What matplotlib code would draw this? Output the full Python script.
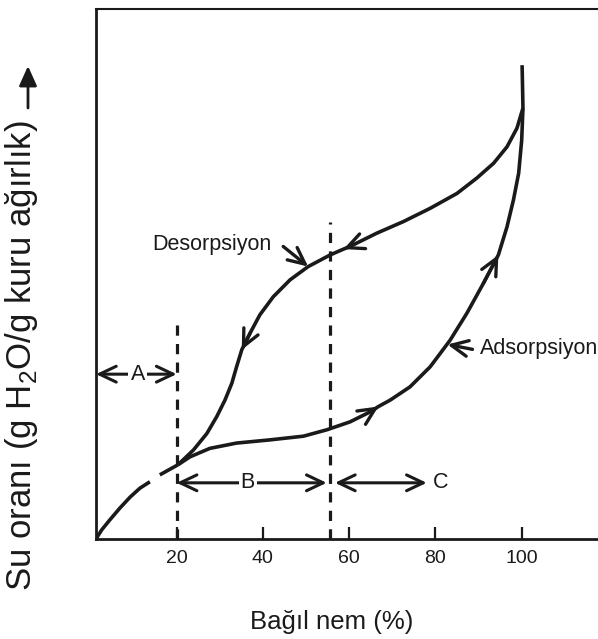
import numpy as np
import matplotlib.pyplot as plt

plt.rcParams['font.family'] = ['Liberation Sans', 'DejaVu Sans']
plt.rcParams['mathtext.fontset'] = 'custom'
plt.rcParams['mathtext.rm'] = 'Liberation Sans'

# values: x = relative humidity (%), y = water content (arbitrary units)
start_x1 = [1.3, 2.6, 4.5, 6.8, 9.2, 11.5, 13.8]
start_y1 = [0.0, 1.7, 3.6, 5.8, 7.9, 9.6, 10.8]
start_x2 = [16.1, 18.3, 20.3]
start_y2 = [12.1, 13.1, 14.0]

ads_x = [20.3, 23.1, 27.7, 33.9, 41.6, 49.4, 54.8, 60.2, 64.9, 66.8, 69.5, 74.1,
         78.8, 83.4, 87.3, 91.1, 94.6, 96.6, 98.1, 99.3, 100.0, 100.3]
ads_y = [14.0, 15.5, 17.1, 18.1, 18.7, 19.4, 20.6, 22.1, 24.0, 25.0, 26.2, 28.7,
         32.5, 37.5, 42.6, 48.2, 53.6, 58.9, 64.0, 69.0, 75.2, 81.3]

des_x = [100.3, 98.9, 96.6, 93.5, 89.6, 85.0, 78.8, 72.6, 66.4, 60.2, 58.7, 55.6,
         50.5, 46.3, 42.4, 39.3, 37.0, 35.1, 33.9, 32.8, 31.2, 29.3, 27.0, 23.9, 20.3]
des_y = [81.3, 77.5, 74.0, 70.9, 68.1, 65.2, 62.4, 59.9, 57.7, 55.2, 54.7, 53.6,
         51.4, 48.9, 45.7, 42.3, 38.8, 35.7, 32.5, 29.4, 26.2, 23.1, 19.9, 16.8, 14.0]

top_x = [100.3, 100.2, 100.1]
top_y = [81.3, 85.5, 89.4]

bounds = [20, 55.5]
bound_tops = [41.9, 59.8]
xticks = [20, 40, 60, 80, 100]

ink = '#1a1a1a'
barb_style = '->,head_length=0.8,head_width=0.38'

fig = plt.figure(figsize=(5.98, 6.39), dpi=100)
ax = fig.add_axes([96 / 598, 100 / 639, 502 / 598, 530 / 639])

curve = dict(color=ink, lw=2.6, solid_capstyle='butt', solid_joinstyle='round')
ax.plot(start_x1, start_y1, **curve)
ax.plot(start_x2, start_y2, **curve)
ax.plot(ads_x, ads_y, **curve)
ax.plot(des_x, des_y, **curve)
ax.plot(top_x, top_y, **curve)

for b, t in zip(bounds, bound_tops):
    ax.plot([b, b], [0, t], color=ink, lw=2.3, linestyle=(0, (3.2, 2.6)))


def barb(xs, ys, tip):
    i = xs.index(tip)
    ax.annotate('', xy=(xs[i], ys[i]), xytext=(xs[i - 1], ys[i - 1]),
                arrowprops=dict(arrowstyle=barb_style, lw=2.4, color=ink,
                                shrinkA=0, shrinkB=0, mutation_scale=15))


barb(des_x, des_y, 58.7)
barb(des_x, des_y, 35.1)
barb(ads_x, ads_y, 66.8)
barb(ads_x, ads_y, 94.6)

# labels with pointers
ax.text(42.1, 55.5, 'Desorpsiyon', ha='right', va='center', fontsize=15.5, color=ink)
i = des_x.index(50.5)
ax.annotate('', xy=(des_x[i], des_y[i]), xytext=(-18, 14.5), textcoords='offset points',
            arrowprops=dict(arrowstyle=barb_style, lw=2.4, color=ink,
                            shrinkA=0, shrinkB=0, mutation_scale=15))

ax.text(90.4, 36.0, 'Adsorpsiyon', ha='left', va='center', fontsize=15.5, color=ink)
i = ads_x.index(83.4)
ax.annotate('', xy=(ads_x[i] - 0.6, ads_y[i] - 0.8), xytext=(18, -3.5), textcoords='offset points',
            arrowprops=dict(arrowstyle=barb_style, lw=2.4, color=ink,
                            shrinkA=0, shrinkB=0, mutation_scale=15))

# regions A, B, C
span_style = '<->,head_length=0.8,head_width=0.38'
spans = [(1.3, 20, 31.1), (20, 54.8, 10.6), (56.7, 78.0, 10.6)]
for x0, x1, yy in spans:
    ax.annotate('', xy=(x1, yy), xytext=(x0, yy),
                arrowprops=dict(arrowstyle=span_style, lw=2.2, color=ink,
                                shrinkA=0, shrinkB=0, mutation_scale=15))
box = dict(fc='white', ec='none', pad=1.5)
ax.text(11.0, 31.1, 'A', ha='center', va='center', fontsize=15.5, color=ink, bbox=box)
ax.text(36.5, 10.6, 'B', ha='center', va='center', fontsize=15.5, color=ink, bbox=box)
ax.text(79.4, 10.6, 'C', ha='left', va='center', fontsize=15.5, color=ink)

ax.set_xlim(1.3, 117.7)
ax.set_ylim(0, 100)
ax.set_xticks(xticks)
ax.set_xticklabels([str(t) for t in xticks], fontsize=14)
ax.set_yticks([])
ax.tick_params(axis='x', direction='in', length=8.5, width=1.6, pad=8, colors=ink)
ax.spines['right'].set_visible(False)
ax.spines['left'].set_linewidth(2)
ax.spines['bottom'].set_linewidth(2)
ax.spines['top'].set_linewidth(1.5)
for s in ax.spines.values():
    s.set_color(ink)

fig.text(331.7 / 598, 1 - 621.7 / 639, 'Bağıl nem (%)', ha='center', va='center',
         fontsize=18.5, color=ink)
fig.text(22 / 598, 1 - 356 / 639, 'Su oranı (g H$_2$O/g kuru ağırlık)', rotation=90,
         ha='center', va='center', fontsize=25, color=ink)
ax.annotate('', xy=(28 / 598, 1 - 66 / 639), xytext=(28 / 598, 1 - 108 / 639),
            xycoords='figure fraction', textcoords='figure fraction',
            arrowprops=dict(arrowstyle='-|>,head_length=0.8,head_width=0.36', lw=2,
                            color=ink, shrinkA=0, shrinkB=0, mutation_scale=15))

fig.savefig('out.png', dpi=100)
